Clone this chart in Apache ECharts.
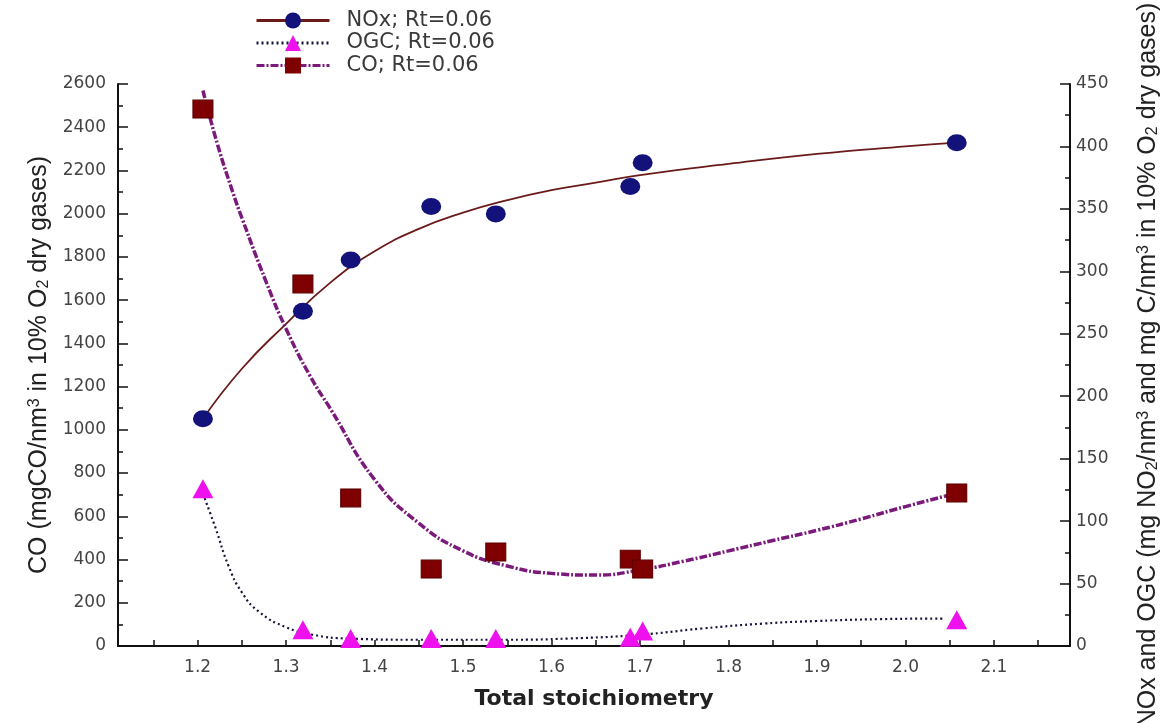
<!DOCTYPE html>
<html><head><meta charset="utf-8">
<script src="https://cdn.jsdelivr.net/npm/echarts@6/dist/echarts.min.js"></script>
<style>html,body{margin:0;padding:0;background:#fff}#c{width:1164px;height:723px}</style>
</head><body><div id="c"></div>
<script>
// measured points
const stoich = [1.206, 1.319, 1.373, 1.464, 1.537, 1.689, 1.703, 2.058];
const noxValues = [182, 268, 309, 352, 346, 368, 387, 403];
const ogcValues = [126, 13, 6, 6, 6, 7, 12, 21];
const coValues = [2484, 1675, 685, 356, 435, 402, 356, 708];

// fitted curves
const noxFitX = [1.206, 1.25, 1.30, 1.35, 1.40, 1.45, 1.50, 1.55, 1.60, 1.65, 1.70, 1.80, 1.90, 2.00, 2.058];
const noxFitY = [182, 222, 258, 291, 316, 334, 347, 357, 365, 371, 377, 386, 394, 400, 403];
const ogcFitX = [1.206, 1.22, 1.235, 1.25, 1.27, 1.30, 1.33, 1.37, 1.45, 1.55, 1.62, 1.70, 1.77, 1.84, 1.90, 1.97, 2.045];
const ogcFitY = [122, 95, 64, 43, 27, 15, 9, 6, 5, 5, 6, 9, 14, 18, 20, 21.5, 22];
const coFitX = [1.206, 1.222, 1.24, 1.25, 1.278, 1.30, 1.327, 1.35, 1.40, 1.45, 1.50, 1.55, 1.60, 1.65, 1.70, 1.75, 1.80, 1.85, 1.90, 1.95, 2.00, 2.059];
const coFitY = [2570, 2327, 2096, 1981, 1679, 1467, 1250, 1098, 770, 568, 440, 370, 336, 328, 352, 393, 440, 488, 535, 588, 645, 708];

// axis ticks
const xTickLabels = ['1.2', '1.3', '1.4', '1.5', '1.6', '1.7', '1.8', '1.9', '2.0', '2.1'];
const xTickMarks = [1.15, 1.2, 1.25, 1.3, 1.35, 1.4, 1.45, 1.5, 1.55, 1.6, 1.65, 1.7, 1.75, 1.8, 1.85, 1.9, 1.95, 2.0, 2.05, 2.1, 2.15];

const zip = (a, b) => a.map((v, i) => [v, b[i]]);
const tickFont = {fontFamily: 'DejaVu Sans', fontSize: 17, color: '#444'};
const titleRich = {
  t: {fontFamily: 'Liberation Sans', fontSize: 25, color: '#222'},
  sup: {fontFamily: 'Liberation Sans', fontSize: 16, color: '#222', verticalAlign: 'top', lineHeight: 15},
  sub: {fontFamily: 'Liberation Sans', fontSize: 16, color: '#222', verticalAlign: 'bottom', lineHeight: 15}
};
const axisLineStyle = {color: '#111', width: 2};

const chart = echarts.init(document.getElementById('c'));
chart.setOption({
  animation: false,
  backgroundColor: '#fff',
  grid: {left: 118, right: 94, top: 84, bottom: 77, containLabel: false, outerBoundsMode: 'none'},
  legend: {
    left: 250, top: 5, orient: 'vertical',
    itemWidth: 73, itemHeight: 20, itemGap: 1.5,
    data: ['NOx; Rt=0.06', 'OGC; Rt=0.06', 'CO; Rt=0.06'],
    lineStyle: {width: 3},
    textStyle: {fontFamily: 'DejaVu Sans', fontSize: 21, lineHeight: 21, color: '#3a3a3a', padding: [0, 0, 0, 12]}
  },
  xAxis: {
    type: 'value', min: 1.11, max: 2.186,
    axisLine: {show: true, lineStyle: axisLineStyle},
    axisTick: {show: true, inside: true, length: 6, customValues: xTickMarks, lineStyle: {color: '#111', width: 1.5}},
    axisLabel: Object.assign({customValues: xTickLabels.map(Number), margin: 13, formatter: v => v.toFixed(1)}, tickFont),
    splitLine: {show: false},
    name: 'Total stoichiometry', nameLocation: 'middle', nameGap: 42,
    nameTextStyle: {fontFamily: 'DejaVu Sans', fontWeight: 'bold', fontSize: 22, color: '#222'}
  },
  yAxis: [{
    type: 'value', position: 'left', min: 0, max: 2600, interval: 200,
    axisLine: {show: true, lineStyle: axisLineStyle},
    axisTick: {show: true, inside: true, length: 10, lineStyle: {color: '#111', width: 1.5}},
    minorTick: {show: true, splitNumber: 2, length: 5, lineStyle: {color: '#111', width: 1.5}},
    axisLabel: Object.assign({margin: 12, formatter: v => String(v)}, tickFont),
    splitLine: {show: false},
    name: '{t|CO (mgCO/nm}{sup|3}{t| in 10% O}{sub|2}{t| dry gases)}',
    nameLocation: 'middle', nameGap: 64, nameRotate: 90,
    nameTextStyle: {rich: titleRich}
  }, {
    type: 'value', position: 'right', min: 0, max: 450, interval: 50,
    axisLine: {show: true, lineStyle: axisLineStyle},
    axisTick: {show: true, inside: true, length: 10, lineStyle: {color: '#111', width: 1.5}},
    minorTick: {show: true, splitNumber: 2, length: 5, lineStyle: {color: '#111', width: 1.5}},
    axisLabel: Object.assign({margin: 6, formatter: v => String(v)}, tickFont),
    splitLine: {show: false},
    name: '{t|NOx and OGC (mg NO}{sub|2}{t|/nm}{sup|3}{t| and mg C/nm}{sup|3}{t| in 10% O}{sub|2}{t| dry gases)}',
    nameLocation: 'middle', nameGap: 66, nameRotate: 90,
    nameTextStyle: {rich: titleRich}
  }],
  series: [{
    name: 'NOx; Rt=0.06', type: 'line', yAxisIndex: 1, smooth: 0.5,
    symbol: 'circle', showSymbol: false, data: zip(noxFitX, noxFitY),
    lineStyle: {color: '#6b1a1a', width: 1.8}, itemStyle: {color: '#12127a'}, z: 2
  }, {
    name: 'OGC; Rt=0.06', type: 'line', yAxisIndex: 1, smooth: 0.5,
    symbol: 'triangle', showSymbol: false, data: zip(ogcFitX, ogcFitY),
    lineStyle: {color: '#14143c', width: 2.2, type: [2, 3]}, itemStyle: {color: '#ee11ee'}, z: 2
  }, {
    name: 'CO; Rt=0.06', type: 'line', yAxisIndex: 0, smooth: 0.5,
    symbol: 'rect', showSymbol: false, data: zip(coFitX, coFitY),
    lineStyle: {color: '#7a1a7a', width: 3.5, type: [8, 2, 2, 2]}, itemStyle: {color: '#7f0000'}, z: 2
  }, {
    name: 'NOx data', type: 'scatter', yAxisIndex: 1, symbol: 'circle', symbolSize: [20, 17],
    data: zip(stoich, noxValues), itemStyle: {color: '#12127a', opacity: 1}, z: 4
  }, {
    name: 'OGC data', type: 'scatter', yAxisIndex: 1, symbol: 'triangle', symbolSize: [21, 19],
    data: zip(stoich, ogcValues), itemStyle: {color: '#ee11ee', opacity: 1}, z: 4
  }, {
    name: 'CO data', type: 'scatter', yAxisIndex: 0, symbol: 'rect', symbolSize: [20, 18],
    data: zip(stoich, coValues), itemStyle: {color: '#7f0000', borderColor: '#5a0000', borderWidth: 1, opacity: 1}, z: 4
  }]
});
</script>
</body></html>
